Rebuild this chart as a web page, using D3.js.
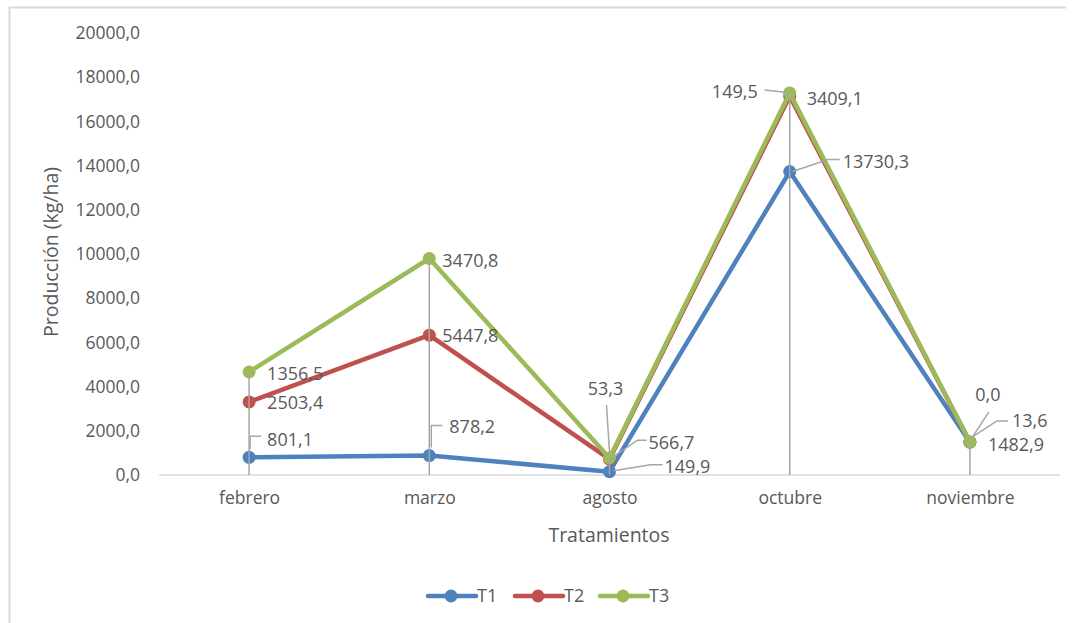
<!DOCTYPE html>
<html>
<head>
<meta charset="utf-8">
<script src="https://cdn.jsdelivr.net/npm/d3@7"></script>
<style>
  html, body { margin: 0; padding: 0; background: #ffffff; }
  svg { display: block; }
  text { font-family: "Open Sans", "Noto Sans", sans-serif; fill: #595959; }
</style>
</head>
<body>
<svg id="chart" width="1076" height="623"></svg>
<script>
// Monthly production per treatment (kg/ha); series are stacked
const categories = ["febrero", "marzo", "agosto", "octubre", "noviembre"];
const seriesNames = ["T1", "T2", "T3"];
const t1 = [801.1, 878.2, 149.9, 13730.3, 1482.9];
const t2 = [2503.4, 5447.8, 566.7, 3409.1, 13.6];
const t3 = [1356.5, 3470.8, 53.3, 149.5, 0.0];
const yTicks = [0, 2000, 4000, 6000, 8000, 10000, 12000, 14000, 16000, 18000, 20000];

const colors = ["#4F81BD", "#C0504D", "#9BBB59"];
const textGray = "#595959";
const dropGray = "#A6A6A6";

// Data-label placement relative to each marker: offset, anchor, optional leader polyline
const labelPlacement = [
  [ // T1
    { dx: 18, dy: -18, anchor: "start", leader: [[1, -8], [1, -21], [12, -21]] },
    { dx: 20, dy: -29, anchor: "start", leader: [[2, -8], [2, -30], [13, -30]] },
    { dx: 55, dy: -5, anchor: "start", leader: [[4, -1], [41, -7], [53, -7]] },
    { dx: 53, dy: -10, anchor: "start", leader: [[3, 0], [38, -12], [50, -12]] },
    { dx: 18, dy: 2, anchor: "start" }
  ],
  [ // T2
    { dx: 18, dy: 1, anchor: "start" },
    { dx: 13, dy: 1, anchor: "start" },
    { dx: 39, dy: -16, anchor: "start", leader: [[3, -2], [28, -19], [37, -19]] },
    { dx: 17, dy: 2, anchor: "start" },
    { dx: 42, dy: -21, anchor: "start", leader: [[1, -4], [27, -21], [38, -21]] }
  ],
  [ // T3
    { dx: 18, dy: 2, anchor: "start" },
    { dx: 13, dy: 2, anchor: "start" },
    { dx: -4, dy: -69, anchor: "middle", leader: [[-3, -53], [0, -6]] },
    { dx: -32, dy: -1, anchor: "end", leader: [[-25, -3], [-7, -1], [-2, 0]] },
    { dx: 18, dy: -47, anchor: "middle", leader: [[19, -30], [2, -4]] }
  ]
];

const svg = d3.select("#chart");

// Chart frame (top and left edges visible)
svg.append("path")
  .attr("d", "M9.5,640 V7.5 H1066")
  .attr("fill", "none")
  .attr("stroke", "#D9D9D9")
  .attr("stroke-width", 2);

const x = d3.scalePoint().domain(categories).range([159, 1060]).padding(0.5);
const y = d3.scaleLinear().domain([0, 20000]).range([475, 33]);

// Stack the three treatments
const rows = categories.map((c, i) => ({ cat: c, T1: t1[i], T2: t2[i], T3: t3[i] }));
const stacked = d3.stack().keys(seriesNames)(rows);

// Y axis: labels only
const yAxis = d3.axisLeft(y)
  .tickValues(yTicks)
  .tickSize(0)
  .tickPadding(0)
  .tickFormat(d => d3.format(".1f")(d).replace(".", ","));
const gy = svg.append("g").attr("transform", "translate(140,0)").call(yAxis);
gy.select(".domain").remove();
gy.selectAll("text")
  .attr("font-size", "17.5px")
  .attr("fill", textGray)
  .style("font-family", "'Open Sans', sans-serif");

// X axis: baseline + category labels
const xAxis = d3.axisBottom(x).tickSize(0).tickPadding(0);
const gx = svg.append("g").attr("transform", "translate(0,475)").call(xAxis);
gx.select(".domain")
  .attr("stroke", "#D9D9D9")
  .attr("stroke-width", 1.5)
  .attr("d", "M159,0H1060");
gx.selectAll("text")
  .attr("y", 29)
  .attr("dy", "0")
  .attr("font-size", "17.5px")
  .attr("fill", textGray)
  .style("font-family", "'Open Sans', sans-serif");

// Axis titles
svg.append("text")
  .attr("transform", `translate(58,252) rotate(-90)`)
  .attr("text-anchor", "middle")
  .attr("font-size", "19.5px")
  .text("Producción (kg/ha)");
svg.append("text")
  .attr("x", 609)
  .attr("y", 542)
  .attr("text-anchor", "middle")
  .attr("font-size", "19.5px")
  .text("Tratamientos");

// Series lines and markers
const line = d3.line().x((d, i) => x(categories[i])).y(d => y(d[1]));
stacked.forEach((s, k) => {
  svg.append("path")
    .datum(s)
    .attr("d", line)
    .attr("fill", "none")
    .attr("stroke", colors[k])
    .attr("stroke-width", 4.5)
    .attr("stroke-linejoin", "round")
    .attr("stroke-linecap", "round");
  svg.append("g").selectAll("circle")
    .data(s)
    .join("circle")
    .attr("cx", (d, i) => x(categories[i]))
    .attr("cy", d => y(d[1]))
    .attr("r", 6.5)
    .attr("fill", colors[k]);
});

// Drop lines from the top of each stack to the category axis
const stackTop = stacked[stacked.length - 1];
svg.append("g").selectAll("line")
  .data(stackTop)
  .join("line")
  .attr("x1", (d, i) => x(categories[i]))
  .attr("x2", (d, i) => x(categories[i]))
  .attr("y1", d => y(d[1]))
  .attr("y2", y(0))
  .attr("stroke", dropGray)
  .attr("stroke-width", 1.5);

// Data labels with leader lines
const fmt = v => d3.format(".1f")(v).replace(".", ",");
const valuesBySeries = [t1, t2, t3];
stacked.forEach((s, k) => {
  s.forEach((d, i) => {
    const px = x(categories[i]);
    const py = y(d[1]);
    const p = labelPlacement[k][i];
    if (p.leader) {
      svg.append("path")
        .attr("d", d3.line()(p.leader.map(q => [px + q[0], py + q[1]])))
        .attr("fill", "none")
        .attr("stroke", dropGray)
        .attr("stroke-width", 1.5);
    }
    svg.append("text")
      .attr("x", px + p.dx)
      .attr("y", py + p.dy)
      .attr("dy", "0.35em")
      .attr("text-anchor", p.anchor)
      .attr("font-size", "18px")
      .text(fmt(valuesBySeries[k][i]));
  });
});

// Legend
const legendX = [428, 515, 600];
const legend = svg.append("g").attr("transform", "translate(0,596)");
seriesNames.forEach((name, k) => {
  const g = legend.append("g").attr("transform", `translate(${legendX[k]},0)`);
  g.append("line")
    .attr("x1", 0).attr("x2", 48)
    .attr("y1", 0).attr("y2", 0)
    .attr("stroke", colors[k])
    .attr("stroke-width", 4.5)
    .attr("stroke-linecap", "round");
  g.append("circle").attr("cx", 23).attr("cy", 0).attr("r", 6.5).attr("fill", colors[k]);
  g.append("text")
    .attr("x", 49)
    .attr("y", 0)
    .attr("dy", "0.35em")
    .attr("font-size", "18px")
    .text(name);
});
</script>
</body>
</html>
